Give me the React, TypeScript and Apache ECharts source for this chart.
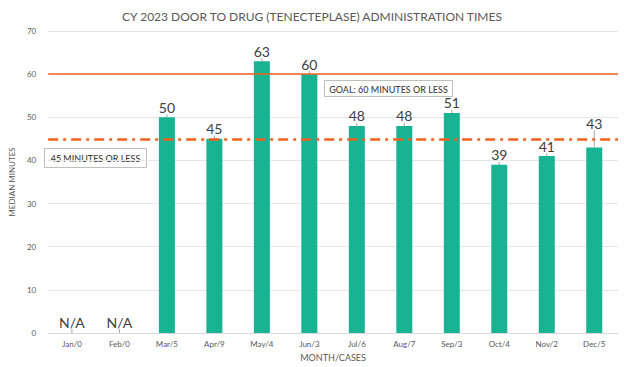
import React, { useEffect, useRef } from "react";
import * as echarts from "echarts";

const categories = ["Jan/0", "Feb/0", "Mar/5", "Apr/9", "May/4", "Jun/3", "Jul/6", "Aug/7", "Sep/3", "Oct/4", "Nov/2", "Dec/5"];
const medianMinutes: (number | null)[] = [null, null, 50, 45, 63, 60, 48, 48, 51, 39, 41, 43];
const goalValue = 60;
const targetValue = 45;
const yTicks = { min: 0, max: 70, interval: 10 };

const FONT = "Lato, 'Open Sans', sans-serif";

export default function App() {
  const ref = useRef<HTMLDivElement>(null);
  useEffect(() => {
    document.body.style.margin = "0";
    const chart = echarts.init(ref.current!, null, { renderer: "svg" });
    const data = medianMinutes.map((v) =>
      v === null ? { value: 0, label: { formatter: "N/A", distance: 4 } } : { value: v }
    );
    chart.setOption({
      animation: false,
      textStyle: { fontFamily: FONT },
      title: {
        text: "CY 2023 DOOR TO DRUG (TENECTEPLASE) ADMINISTRATION TIMES",
        left: "center",
        top: 5,
        textStyle: { fontSize: 12, fontWeight: "normal", color: "#595959", fontFamily: FONT },
      },
      grid: { left: 39, right: 6, top: 31, bottom: 31 },
      xAxis: {
        type: "category",
        data: categories,
        name: "MONTH/CASES",
        nameLocation: "middle",
        nameGap: 20,
        nameTextStyle: { fontSize: 9, color: "#595959" },
        axisLine: { lineStyle: { color: "#d9d9d9" } },
        axisTick: { show: false },
        axisLabel: { fontSize: 8, color: "#595959", margin: 7 },
      },
      yAxis: {
        type: "value",
        min: yTicks.min,
        max: yTicks.max,
        interval: yTicks.interval,
        name: "MEDIAN MINUTES",
        nameLocation: "middle",
        nameGap: 29,
        nameTextStyle: { fontSize: 8, color: "#595959" },
        axisLabel: { fontSize: 8, color: "#595959", margin: 12 },
        splitLine: { lineStyle: { color: "#e6e6e6" } },
      },
      series: [
        {
          type: "bar",
          data,
          barWidth: 16,
          itemStyle: { color: "#17B392" },
          label: {
            show: true,
            position: "top",
            fontSize: 14,
            color: "#404040",
            distance: 3,
          },
          labelLayout: (p: any) => (p.dataIndex === 11 ? { dy: -14 } : {}),
          labelLine: { show: true, lineStyle: { color: "#a6a6a6", width: 1 } },
          markLine: {
            silent: true,
            symbol: "none",
            label: { show: false },
            data: [
              { yAxis: goalValue, lineStyle: { color: "#F0601E", width: 1.5, type: "solid" } },
              { yAxis: targetValue, lineStyle: { color: "#F0601E", width: 2.5, type: [10, 5, 3, 5] } },
            ],
          },
        },
      ],
      graphic: [
        {
          type: "group",
          left: 324,
          top: 80,
          children: [
            { type: "rect", shape: { x: 0, y: 0, width: 128, height: 16 }, style: { fill: "#fff", stroke: "#bfbfbf", lineWidth: 1 } },
            { type: "text", x: 64, y: 8.5, style: { text: "GOAL: 60 MINUTES OR LESS", fontSize: 9, fontWeight: 500, fontFamily: FONT, fill: "#404040", align: "center", verticalAlign: "middle" } },
          ],
        },
        {
          type: "group",
          left: 44,
          top: 148,
          children: [
            { type: "rect", shape: { x: 0, y: 0, width: 102, height: 19 }, style: { fill: "#fff", stroke: "#bfbfbf", lineWidth: 1 } },
            { type: "text", x: 51, y: 10, style: { text: "45 MINUTES OR LESS", fontSize: 9, fontWeight: 500, fontFamily: FONT, fill: "#404040", align: "center", verticalAlign: "middle" } },
          ],
        },
      ],
    });
    return () => chart.dispose();
  }, []);
  return <div ref={ref} style={{ width: 624, height: 367 }} />;
}
